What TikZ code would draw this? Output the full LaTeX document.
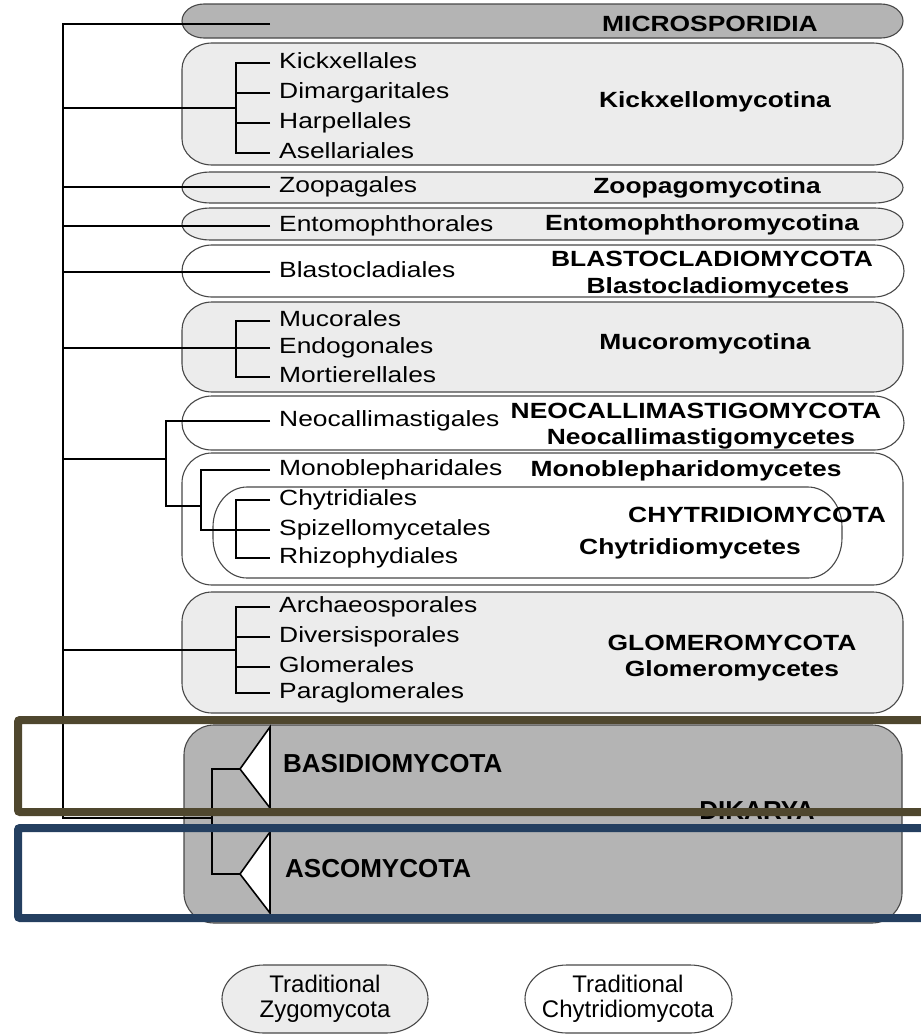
\documentclass[tikz,border=0pt]{standalone}
\usepackage{fontspec}
\setmainfont[FakeStretch=1.2]{Liberation Sans}
\newfontfamily\plainfont{Liberation Sans}
\usetikzlibrary{calc}
\definecolor{cladeLine}{RGB}{72,72,72}
\definecolor{cladeLight}{RGB}{236,236,236}
\definecolor{cladeDark}{RGB}{180,180,180}
\definecolor{markOlive}{RGB}{79,71,46}
\definecolor{markNavy}{RGB}{36,63,96}
\newcommand{\leaffont}{\fontsize{22}{24}\selectfont}
\newcommand{\groupfont}{\plainfont\fontsize{26}{28}\selectfont}
\newcommand{\keyfont}{\plainfont\fontsize{24}{25}\selectfont}
% box with elliptic ends: style, x1, y1, x2, y2, rx, ry
\newcommand{\cladebox}[7][]{%
  \path[#1] ({#2+#6},#3) -- ({#4-#6},#3)
    .. controls ({#4-0.45*#6},#3) and (#4,{#3+0.45*#7}) .. (#4,{#3+#7})
    -- (#4,{#5-#7})
    .. controls (#4,{#5-0.45*#7}) and ({#4-0.45*#6},#5) .. ({#4-#6},#5)
    -- ({#2+#6},#5)
    .. controls ({#2+0.45*#6},#5) and (#2,{#5-0.45*#7}) .. (#2,{#5-#7})
    -- (#2,{#3+#7})
    .. controls (#2,{#3+0.45*#7}) and ({#2+0.45*#6},#3) .. ({#2+#6},#3) -- cycle;}
\begin{document}
\begin{tikzpicture}[x=1pt, y=-1pt,
    clade/.style={draw=cladeLine, line width=1.1pt},
    branch/.style={line width=1.8pt, black},
    leaf/.style={anchor=west, inner xsep=9pt, inner ysep=0pt, text height=15.5pt, text depth=4.5pt, font=\leaffont},
    taxon/.style={inner sep=0pt, text height=16pt, text depth=0pt, font=\leaffont\bfseries},
    group/.style={inner sep=0pt, text height=18.6pt, text depth=0pt, font=\groupfont\bfseries},
    key/.style={inner sep=0pt, align=center, font=\keyfont},
    cone/.style={draw=black, fill=white, line width=1.6pt, line join=miter},
    marker/.style={line width=8pt, rounded corners=2pt}
]
\useasboundingbox (0,0) rectangle (921,1034);

\cladebox[clade, fill=cladeDark]{182}{4}{903}{38}{22}{17}
\cladebox[clade, fill=cladeLight]{182}{43}{903}{165}{30}{26}
\cladebox[clade, fill=cladeLight]{182}{172}{903}{203}{28}{15.5}
\cladebox[clade, fill=cladeLight]{182}{208}{903}{240}{28}{16}
\cladebox[clade, fill=white]{182}{245}{904}{297}{30}{26}
\cladebox[clade, fill=cladeLight]{182}{302}{903}{392}{30}{28}
\cladebox[clade, fill=white]{182}{396}{904}{450}{30}{27}
\cladebox[clade, fill=white]{182}{453}{903}{585}{30}{30}
\cladebox[clade, fill=white]{213}{487}{842}{578}{34}{40}
\cladebox[clade, fill=cladeLight]{182}{592}{903}{713}{30}{30}
\cladebox[clade, fill=cladeDark]{184}{725}{902}{923}{30}{30}
\cladebox[clade, fill=cladeLight]{222}{965}{428}{1033}{42}{34}
\cladebox[clade, fill=white]{525}{965}{732}{1033}{42}{34}

\coordinate (rtop) at (63,24);
\coordinate (micro) at (270,24);
\coordinate (jk) at (236,108);
\coordinate (jm) at (236,348);
\coordinate (jneo) at (166,459);
\coordinate (jmono) at (201,506);
\coordinate (jc) at (236,530);
\coordinate (jg) at (236,650);
\coordinate (jd) at (212,818);
\coordinate (basapex) at (240,769);
\coordinate (ascapex) at (240,874);

\node[leaf] (kick1) at (270,63) {Kickxellales};
\node[leaf] (kick2) at (270,93) {Dimargaritales};
\node[leaf] (kick3) at (270,123) {Harpellales};
\node[leaf] (kick4) at (270,153) {Asellariales};
\node[leaf] (zoop) at (270,187) {Zoopagales};
\node[leaf] (ento) at (270,226) {Entomophthorales};
\node[leaf] (blast) at (270,272) {Blastocladiales};
\node[leaf] (muco1) at (270,321) {Mucorales};
\node[leaf] (muco2) at (270,348) {Endogonales};
\node[leaf] (muco3) at (270,377) {Mortierellales};
\node[leaf] (neo) at (270,421) {Neocallimastigales};
\node[leaf] (mono) at (270,470) {Monoblepharidales};
\node[leaf] (chy1) at (270,500) {Chytridiales};
\node[leaf] (chy2) at (270,530) {Spizellomycetales};
\node[leaf] (chy3) at (270,558) {Rhizophydiales};
\node[leaf] (glom1) at (270,607) {Archaeosporales};
\node[leaf] (glom2) at (270,637) {Diversisporales};
\node[leaf] (glom3) at (270,667) {Glomerales};
\node[leaf] (glom4) at (270,693) {Paraglomerales};

\draw[branch] (micro) -- (rtop) |- (jd);
\draw[branch] (kick1.west) -| (jk) |- (kick4.west);
\draw[branch] (kick2.west) -- (kick2.west -| jk);
\draw[branch] (kick3.west) -- (kick3.west -| jk);
\draw[branch] (jk) -- (jk -| rtop);
\draw[branch] (zoop.west) -- (zoop.west -| rtop);
\draw[branch] (ento.west) -- (ento.west -| rtop);
\draw[branch] (blast.west) -- (blast.west -| rtop);
\draw[branch] (muco1.west) -| (jm) |- (muco3.west);
\draw[branch] (muco2.west) -- (muco2.west -| rtop);
\draw[branch] (chy1.west) -| (jc) |- (chy3.west);
\draw[branch] (chy2.west) -- (jc);
\draw[branch] (mono.west) -| (jmono) |- (jc);
\draw[branch] (neo.west) -| (jneo) |- (jmono);
\draw[branch] (jneo) -- (jneo -| rtop);
\draw[branch] (glom1.west) -| (jg) |- (glom4.west);
\draw[branch] (glom2.west) -- (glom2.west -| jg);
\draw[branch] (glom3.west) -- (glom3.west -| jg);
\draw[branch] (jg) -- (jg -| rtop);
\draw[branch] (basapex) -| (jd) |- (ascapex);
\draw[cone] (basapex) -- (270,727) -- (270,808) -- cycle;
\draw[cone] (ascapex) -- (270,832) -- (270,913) -- cycle;

\node[taxon] (microsp) at (710,23) {MICROSPORIDIA};
\node[taxon] (kickmyc) at (715,99) {Kickxellomycotina};
\node[taxon] (zoopmyc) at (707,185.5) {Zoopagomycotina};
\node[taxon] (entomyc) at (702,222) {Entomophthoromycotina};
\node[taxon] (blastphy) at (712,258.5) {BLASTOCLADIOMYCOTA};
\node[taxon] (blastcls) at (718,285) {Blastocladiomycetes};
\node[taxon] (mucomyc) at (705,341.5) {Mucoromycotina};
\node[taxon] (neophy) at (696,410) {NEOCALLIMASTIGOMYCOTA};
\node[taxon] (neocls) at (701,436.5) {Neocallimastigomycetes};
\node[taxon] (monocls) at (686,468.5) {Monoblepharidomycetes};
\node[taxon] (chyphy) at (757,514) {CHYTRIDIOMYCOTA};
\node[taxon] (chycls) at (690,546.5) {Chytridiomycetes};
\node[taxon] (glomphy) at (732,642) {GLOMEROMYCOTA};
\node[taxon] (glomcls) at (732,668.5) {Glomeromycetes};
\node[group, anchor=west] (basidio) at (283,763) {BASIDIOMYCOTA};
\node[group, anchor=west] (asco) at (285,868) {ASCOMYCOTA};
\node[group] (dikarya) at (757,810) {DIKARYA};
\node[key] (zygokey) at (325,999) {Traditional\\Zygomycota};
\node[key] (chytkey) at (628,999) {Traditional\\Chytridiomycota};

\draw[marker, markOlive] (18,720) rectangle (960,812);
\draw[marker, markNavy] (18,828) rectangle (960,918);
\end{tikzpicture}
\end{document}
